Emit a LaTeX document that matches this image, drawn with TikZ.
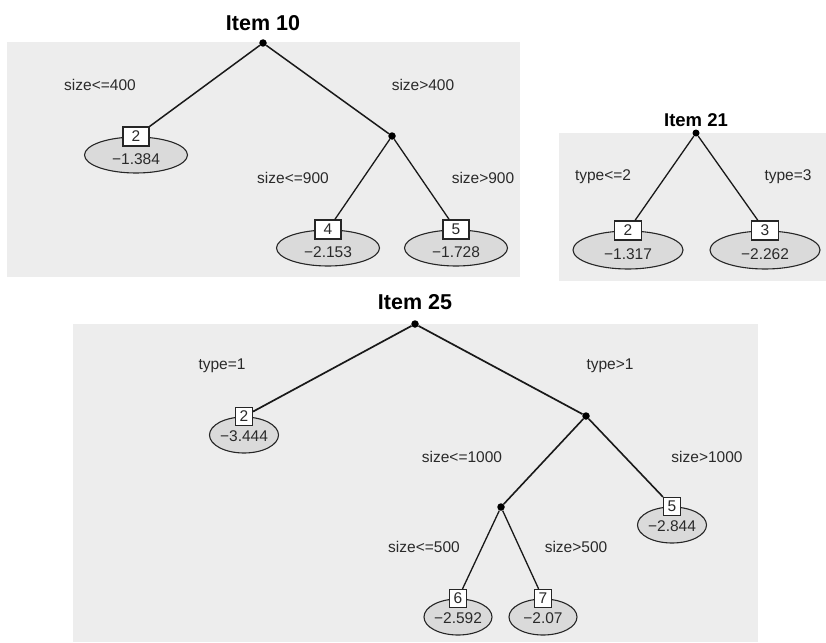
\documentclass[tikz,border=0pt]{standalone}
\usepackage{fontspec}
\setmainfont{Liberation Sans}
\usepackage{xcolor}
\usepackage{tikz}
\usetikzlibrary{shapes.geometric}
\definecolor{cfondo}{HTML}{EDEDED}
\definecolor{choja}{HTML}{DADADA}
\definecolor{cgris}{HTML}{2A2A2A}
\tikzset{
  panel/.style={fill=cfondo, draw=none},
  punto/.style={circle, fill=black, inner sep=0pt, minimum size=7.5pt},
  rama/.style={draw=black!90, line width=1.5pt},
  hoja/.style={ellipse, draw=black!85, fill=choja, line width=1.1pt, inner sep=0pt,
    minimum width=103pt, minimum height=36pt},
  caja/.style={rectangle, draw=black!85, fill=white, line width=1.1pt, inner sep=0pt,
    minimum width=26pt, minimum height=19pt, text=cgris, font=\fontsize{15.5}{18}\selectfont},
  valor/.style={text=cgris, font=\fontsize{15.5}{18}\selectfont, inner sep=0pt},
  etq/.style={text=cgris, font=\fontsize{15.5}{18}\selectfont},
  titulo/.style={font=\bfseries\fontsize{21.5}{24}\selectfont, text=black},
}
\begin{document}
\begin{tikzpicture}[x=1pt, y=-1pt]
  \useasboundingbox (0,0) rectangle (826,642);
  % fondos
  \fill[panel] (7,42) rectangle (520,277);
  \fill[panel] (559,133) rectangle (826,281);
  \fill[panel] (73,324) rectangle (758,642);

  % Item 10
  \node[titulo] at (263,23) {Item 10};
  \node[punto] (a0) at (263,43) {};
  \node[punto] (a3) at (392,136) {};
  \node[hoja] (h2) at (136,155) {};
  \node[valor] at ([yshift=-4pt]h2.center) {−1.384};
  \node[caja] (b2) at (h2.north) {2};
  \node[hoja] (h4) at (328,248) {};
  \node[valor] at ([yshift=-4pt]h4.center) {−2.153};
  \node[caja] (b4) at (h4.north) {4};
  \node[hoja] (h5) at (456,248) {};
  \node[valor] at ([yshift=-4pt]h5.center) {−1.728};
  \node[caja] (b5) at (h5.north) {5};
  \draw[rama] (a0) -- (b2);
  \draw[rama] (a0) -- (a3);
  \draw[rama, line width=1.3pt] (a3) -- (b4);
  \draw[rama, line width=1.3pt] (a3) -- (b5);
  \node[etq] at (100,85) {size<=400};
  \node[etq] at (423,85) {size>400};
  \node[etq] at (293,178) {size<=900};
  \node[etq] at (483,178) {size>900};

  % Item 21
  \node[titulo, font=\bfseries\fontsize{18.5}{21}\selectfont] at (696,120) {Item 21};
  \node[punto, minimum size=7pt] (c0) at (696,133) {};
  \node[hoja, minimum width=110pt, minimum height=38pt] (k2) at (628,250) {};
  \node[valor] at ([yshift=-4pt]k2.center) {−1.317};
  \node[caja, minimum width=27pt] (d2) at (k2.north) {2};
  \node[hoja, minimum width=110pt, minimum height=38pt] (k3) at (765,250) {};
  \node[valor] at ([yshift=-4pt]k3.center) {−2.262};
  \node[caja, minimum width=27pt] (d3) at (k3.north) {3};
  \draw[rama, line width=1.3pt] (c0) -- (d2);
  \draw[rama, line width=1.3pt] (c0) -- (d3);
  \node[etq] at (603,177) {type<=2};
  \node[etq] at (788,177) {type=3};

  % Item 25
  \node[titulo] at (415,302) {Item 25};
  \node[punto] (e0) at (415,324) {};
  \node[punto] (e3) at (586,416) {};
  \node[punto] (e4) at (501,507) {};
  \node[hoja, minimum width=69pt] (m2) at (244,435) {};
  \node[valor] at ([yshift=-1pt]m2.center) {−3.444};
  \node[caja, minimum width=17pt, minimum height=18pt] (f2) at (m2.north) {2};
  \node[hoja, minimum width=69pt] (m5) at (672,525) {};
  \node[valor] at ([yshift=-1pt]m5.center) {−2.844};
  \node[caja, minimum width=17pt, minimum height=18pt] (f5) at (m5.north) {5};
  \node[hoja, minimum width=68pt] (m6) at (458,617) {};
  \node[valor] at ([yshift=-1pt]m6.center) {−2.592};
  \node[caja, minimum width=17pt, minimum height=18pt] (f6) at (m6.north) {6};
  \node[hoja, minimum width=68pt] (m7) at (543,617) {};
  \node[valor] at ([yshift=-1pt]m7.center) {−2.07};
  \node[caja, minimum width=17pt, minimum height=18pt] (f7) at (m7.north) {7};
  \draw[rama, line width=1.7pt] (e0) -- (f2);
  \draw[rama, line width=1.7pt] (e0) -- (e3);
  \draw[rama, line width=1.6pt] (e3) -- (e4);
  \draw[rama, line width=1.6pt] (e3) -- (f5);
  \draw[rama, line width=1.3pt] (e4) -- (f6);
  \draw[rama, line width=1.3pt] (e4) -- (f7);
  \node[etq] at (222,366) {type=1};
  \node[etq] at (610,366) {type>1};
  \node[etq] at (462,457) {size<=1000};
  \node[etq] at (707,457) {size>1000};
  \node[etq] at (424,547) {size<=500};
  \node[etq] at (576,547) {size>500};
\end{tikzpicture}
\end{document}
